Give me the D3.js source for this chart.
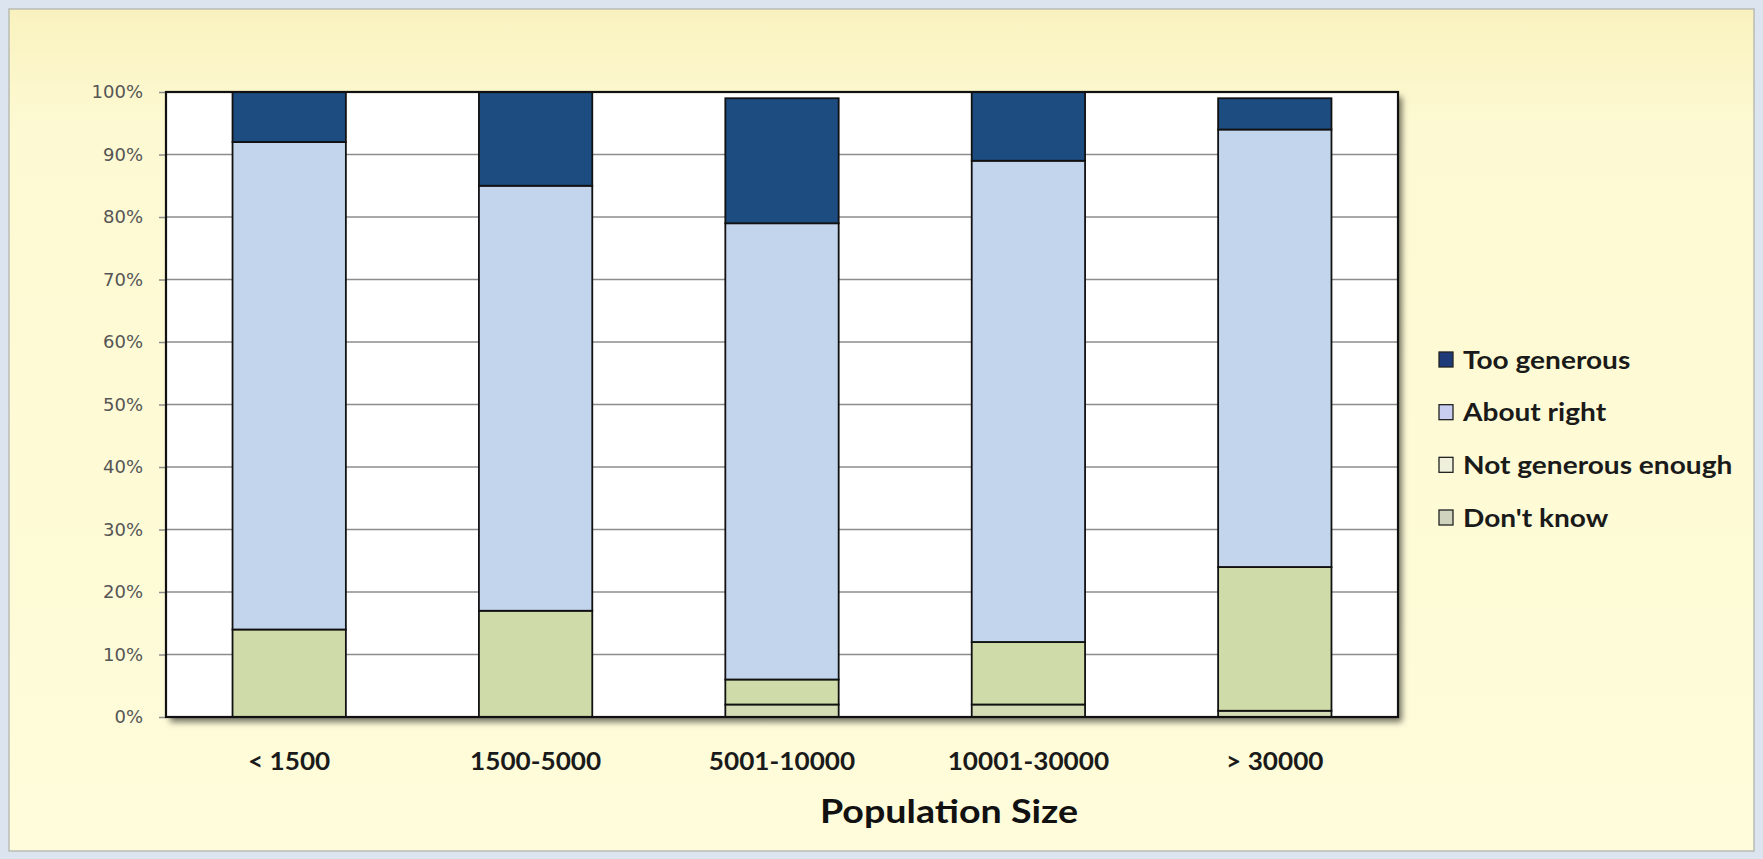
<!DOCTYPE html>
<html>
<head>
<meta charset="utf-8">
<script src="https://cdn.jsdelivr.net/npm/d3@7/dist/d3.min.js"></script>
<style>
  html, body { margin: 0; padding: 0; background: #dbe4ef; }
  svg { display: block; }
</style>
</head>
<body>
<svg id="chart" width="1763" height="859"></svg>
<script>
// Survey responses by population size (percent of respondents)
const categories = ["< 1500", "1500-5000", "5001-10000", "10001-30000", "> 30000"];
const seriesNames = ["Don't know", "Not generous enough", "About right", "Too generous"];
const dontKnow          = [0, 0, 2, 2, 1];
const notGenerousEnough = [14, 17, 4, 10, 23];
const aboutRight        = [78, 68, 73, 77, 70];
const tooGenerous       = [8, 15, 20, 11, 5];
const yTicks = [0, 10, 20, 30, 40, 50, 60, 70, 80, 90, 100];
const legendOrder = ["Too generous", "About right", "Not generous enough", "Don't know"];
const xTitle = "Population Size";

const colors = {
  "Too generous": "#1d4c80",
  "About right": "#c3d5ec",
  "Not generous enough": "#cfdcaa",
  "Don't know": "#d4dcb6"
};
const legendColors = {
  "Too generous": "#1f3a78",
  "About right": "#c9cdf0",
  "Not generous enough": "#eef0dc",
  "Don't know": "#d0d3bd"
};

const svg = d3.select("#chart");
const W = 1763, H = 859;

const defs = svg.append("defs");
const bg = defs.append("linearGradient").attr("id", "bgGrad")
  .attr("x1", 0).attr("y1", 0).attr("x2", 0).attr("y2", 1);
bg.append("stop").attr("offset", "0%").attr("stop-color", "#f9f2bf");
bg.append("stop").attr("offset", "14%").attr("stop-color", "#fdf9d2");
bg.append("stop").attr("offset", "100%").attr("stop-color", "#fefcda");

const sh = defs.append("filter").attr("id", "plotShadow")
  .attr("x", "-5%").attr("y", "-5%").attr("width", "115%").attr("height", "115%");
sh.append("feDropShadow").attr("dx", 4).attr("dy", 5).attr("stdDeviation", 3)
  .attr("flood-color", "#000").attr("flood-opacity", 0.55);

// outer frame and chart area
svg.append("rect").attr("x", 0).attr("y", 0).attr("width", W).attr("height", H).attr("fill", "#dbe4ef");
svg.append("rect").attr("x", 9).attr("y", 9).attr("width", 1745).attr("height", 842)
  .attr("fill", "url(#bgGrad)").attr("stroke", "#b9bcb4").attr("stroke-width", 1.5);

const plot = { left: 166, right: 1398, top: 92, bottom: 717 };

const x = d3.scaleBand().domain(categories)
  .range([plot.left, plot.right]).paddingInner(0.54).paddingOuter(0.27);
const y = d3.scaleLinear().domain([0, 100]).range([plot.bottom, plot.top]);

// plot area with shadow
svg.append("rect")
  .attr("x", plot.left).attr("y", plot.top)
  .attr("width", plot.right - plot.left).attr("height", plot.bottom - plot.top)
  .attr("fill", "#ffffff").attr("filter", "url(#plotShadow)");

// gridlines
svg.append("g").selectAll("line").data(yTicks.filter(t => t > 0 && t < 100)).join("line")
  .attr("x1", plot.left).attr("x2", plot.right)
  .attr("y1", d => y(d)).attr("y2", d => y(d))
  .attr("stroke", "#8c8c8c").attr("stroke-width", 1.6);

// y axis
const yAxis = d3.axisLeft(y).tickValues(yTicks).tickFormat(d => d + "%").tickSize(7).tickPadding(16);
const gy = svg.append("g").attr("transform", `translate(${plot.left},0)`).call(yAxis);
gy.select(".domain").remove();
gy.selectAll(".tick line").attr("stroke", "#8c8c8c").attr("stroke-width", 1.5);
gy.selectAll(".tick text")
  .attr("font-family", "DejaVu Sans, sans-serif").attr("font-size", 18)
  .attr("fill", "#555555");

// stacked bars
const rows = categories.map((c, i) => ({
  category: c,
  "Don't know": dontKnow[i],
  "Not generous enough": notGenerousEnough[i],
  "About right": aboutRight[i],
  "Too generous": tooGenerous[i]
}));
const stacked = d3.stack().keys(seriesNames)(rows);

svg.append("g").selectAll("g").data(stacked).join("g")
  .attr("fill", d => colors[d.key])
  .selectAll("rect").data(d => d).join("rect")
  .attr("x", d => x(d.data.category))
  .attr("width", x.bandwidth())
  .attr("y", d => y(d[1]))
  .attr("height", d => y(d[0]) - y(d[1]))
  .attr("stroke", "#111").attr("stroke-width", 1.8);

// plot border
svg.append("rect")
  .attr("x", plot.left).attr("y", plot.top)
  .attr("width", plot.right - plot.left).attr("height", plot.bottom - plot.top)
  .attr("fill", "none").attr("stroke", "#111").attr("stroke-width", 2.2);

// x axis labels
const xAxis = d3.axisBottom(x).tickSize(0).tickPadding(36);
const gx = svg.append("g").attr("transform", `translate(0,${plot.bottom})`).call(xAxis);
gx.select(".domain").remove();
gx.selectAll(".tick text")
  .attr("font-family", "Lato, sans-serif").attr("font-weight", 700).attr("font-size", 24)
  .attr("transform", "scale(1.09,1)")
  .attr("fill", "#1a1a1a");

// axis title
svg.append("text")
  .attr("transform", "translate(949,823) scale(1.14,1)")
  .attr("text-anchor", "middle")
  .attr("font-family", "Lato, sans-serif").attr("font-weight", 700).attr("font-size", 33)
  .attr("fill", "#111")
  .text(xTitle);

// legend
const legend = svg.append("g").attr("transform", "translate(1439,0)");
const legendY = d3.scalePoint().domain(legendOrder).range([360, 518]);
const items = legend.selectAll("g").data(legendOrder).join("g")
  .attr("transform", d => `translate(0,${legendY(d)})`);
items.append("rect")
  .attr("x", 0).attr("y", -8).attr("width", 14).attr("height", 15)
  .attr("fill", d => legendColors[d]).attr("stroke", "#222").attr("stroke-width", 1.3);
items.append("text")
  .attr("transform", "translate(24,0) scale(1.17,1)")
  .attr("dy", "0.36em")
  .attr("font-family", "Lato, sans-serif").attr("font-weight", 700).attr("font-size", 24)
  .attr("fill", "#1a1a1a")
  .text(d => d);
</script>
</body>
</html>
